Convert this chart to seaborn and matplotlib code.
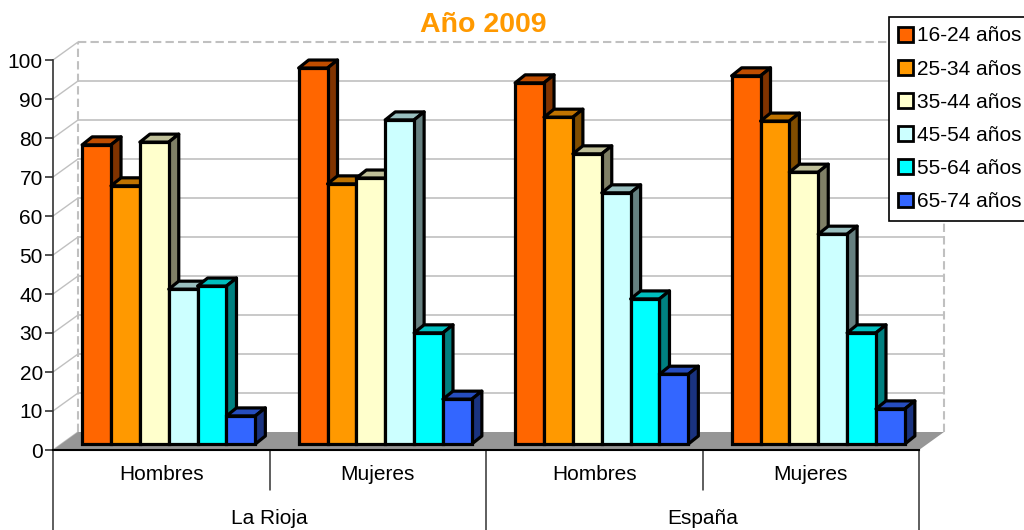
import matplotlib
matplotlib.use('Agg')
import matplotlib.pyplot as plt
from matplotlib.colors import to_rgb
from matplotlib.patches import Patch, Polygon
import pandas as pd
import seaborn as sns

REGIONS = ['La Rioja', 'España']
SEXES = ['Hombres', 'Mujeres', 'Hombres', 'Mujeres']
GROUPS = ['La Rioja Hombres', 'La Rioja Mujeres', 'España Hombres', 'España Mujeres']
AGES = ['16-24 años', '25-34 años', '35-44 años', '45-54 años', '55-64 años', '65-74 años']
COLORS = ['#FF6600', '#FF9900', '#FFFFCC', '#CCFFFF', '#00FFFF', '#3366FF']
YTICKS = [0, 10, 20, 30, 40, 50, 60, 70, 80, 90, 100]

RIOJA_H = [76.7, 66.2, 77.4, 39.7, 40.5, 7.2]
RIOJA_M = [96.4, 66.7, 68.2, 83.1, 28.5, 11.5]
ESPANA_H = [92.6, 83.8, 74.4, 64.4, 37.2, 17.9]
ESPANA_M = [94.4, 82.8, 69.7, 53.8, 28.5, 9.0]

W, H = 1024, 530
# plot box of the front plane, pixels from the top left
LEFT, RIGHT, TOP, BOTTOM = 53, 919, 60, 450
GREY = '#C0C0C0'
INK = '#000000'


def box(dx, dy):
    return [(LEFT + dx) / W, 1 - (BOTTOM + dy) / H, (RIGHT - LEFT) / W, (BOTTOM - TOP) / H]


def shade(color, k):
    return tuple(c * k for c in to_rgb(color))


def px(x, y):
    return x / W, 1 - y / H


df = pd.DataFrame({
    'grupo': [g for g in GROUPS for _ in AGES],
    'edad': AGES * 4,
    'valor': RIOJA_H + RIOJA_M + ESPANA_H + ESPANA_M,
})

sns.set_style('white')
plt.rcParams['font.family'] = ['Liberation Sans', 'DejaVu Sans']

fig = plt.figure(figsize=(W / 100, H / 100), dpi=100)

# back wall, offset from the front plane
ax_wall = fig.add_axes(box(25, -18))
ax_wall.set_zorder(0)
ax_wall.set_xlim(0, 1)
ax_wall.set_ylim(0, 100)
ax_wall.axis('off')
for v in YTICKS[1:-1]:
    ax_wall.axhline(v, color=GREY, lw=1.2, clip_on=False)
for side in (0, 1):
    ax_wall.axvline(side, color=GREY, lw=1.5, ls=(0, (4, 2)), clip_on=False)
ax_wall.axhline(100, color=GREY, lw=1.5, ls=(0, (4, 2)), clip_on=False)

# side wall lines and floor
d_x, d_y = 25, -18
for v in YTICKS:
    y = BOTTOM - (BOTTOM - TOP) * v / 100
    fig.add_artist(plt.Line2D(*zip(px(LEFT, y), px(LEFT + d_x, y + d_y)), color=GREY, lw=1, zorder=0.5))
floor = [px(LEFT, BOTTOM), px(RIGHT, BOTTOM), px(RIGHT + d_x, BOTTOM + d_y), px(LEFT + d_x, BOTTOM + d_y)]
fig.add_artist(Polygon(floor, closed=True, transform=fig.transFigure, fc='#969696', ec='none', zorder=1))

# front axes, carries the real ticks
ax_front = fig.add_axes(box(0, 0))
ax_front.set_zorder(2)
ax_front.patch.set_alpha(0)
ax_front.set_xlim(0, 4)
ax_front.set_ylim(0, 100)
ax_front.set_yticks(YTICKS)
ax_front.tick_params(axis='y', left=True, length=5.8, width=1.2, color='#333333', labelsize=15,
                     labelcolor=INK, pad=1.5)
ax_front.set_xticks([])
for s in ('top', 'right'):
    ax_front.spines[s].set_visible(False)
ax_front.spines['left'].set_color('#333333')
ax_front.spines['left'].set_linewidth(1.2)
ax_front.spines['bottom'].set_color('black')
ax_front.spines['bottom'].set_linewidth(1.5)

# category table under the floor
for x, bot in [(0, 530), (1, 490), (2, 530), (3, 490), (4, 530)]:
    ax_front.plot([x, x], [0, -(bot - BOTTOM) / 3.9], color='#333333', lw=1.1, clip_on=False)
for i, s in enumerate(SEXES):
    ax_front.text(i + 0.5, -25 / 3.9, s, ha='center', va='center', fontsize=15, color=INK)
for i, r in enumerate(REGIONS):
    ax_front.text(2 * i + 1, -69 / 3.9, r, ha='center', va='center', fontsize=15, color=INK)

# bars, sitting a little inside the floor
ax = fig.add_axes(box(7.5, -6))
ax.set_zorder(3)
ax.patch.set_alpha(0)
sns.barplot(data=df, x='grupo', y='valor', hue='edad', order=GROUPS, hue_order=AGES,
            palette=COLORS, width=0.8, gap=0, saturation=1, legend=False, ax=ax,
            edgecolor='black', linewidth=2.3)
ax.set_xlim(-0.5, 3.5)
ax.set_ylim(0, 100)
ax.axis('off')

# depth of the bars, in data units
dep_x = 10 / ((RIGHT - LEFT) / 4)
dep_y = 8 / 3.9
bars = sorted(ax.patches, key=lambda p: p.get_x())
for n, p in enumerate(bars):
    x0, x1 = p.get_x(), p.get_x() + p.get_width()
    top = p.get_height()
    col = p.get_facecolor()[:3]
    p.set_zorder(10 + n * 3 + 2)
    p.set_clip_on(False)
    ax.add_patch(Polygon([(x0, top), (x1, top), (x1 + dep_x, top + dep_y), (x0 + dep_x, top + dep_y)],
                         closed=True, fc=shade(col, 0.75), ec='black', lw=2.3, joinstyle='round',
                         zorder=10 + n * 3, clip_on=False))
    ax.add_patch(Polygon([(x1, 0), (x1 + dep_x, dep_y), (x1 + dep_x, top + dep_y), (x1, top)],
                         closed=True, fc=shade(col, 0.5), ec='black', lw=2.3, joinstyle='round',
                         zorder=10 + n * 3 + 1, clip_on=False))

# title, the first line runs off the top of the picture
fig.text(483 / W, 1 - 25 / H, 'Año 2009', ha='center', va='center', fontsize=20.5, fontweight='bold',
         color='#FF9900')

handles = [Patch(fc=c, ec='black', lw=2) for c in COLORS]
leg = ax.legend(handles, AGES, loc='upper left', bbox_to_anchor=px(889, 17),
                bbox_transform=fig.transFigure, borderaxespad=0, fancybox=False, framealpha=1,
                edgecolor='black', fontsize=15, labelcolor=INK, handlelength=0.72, handleheight=0.72,
                handletextpad=0.18, labelspacing=0.68, borderpad=0.45)
leg.get_frame().set_linewidth(1.2)
leg.set_zorder(100)

fig.savefig('out.png', dpi=100)
